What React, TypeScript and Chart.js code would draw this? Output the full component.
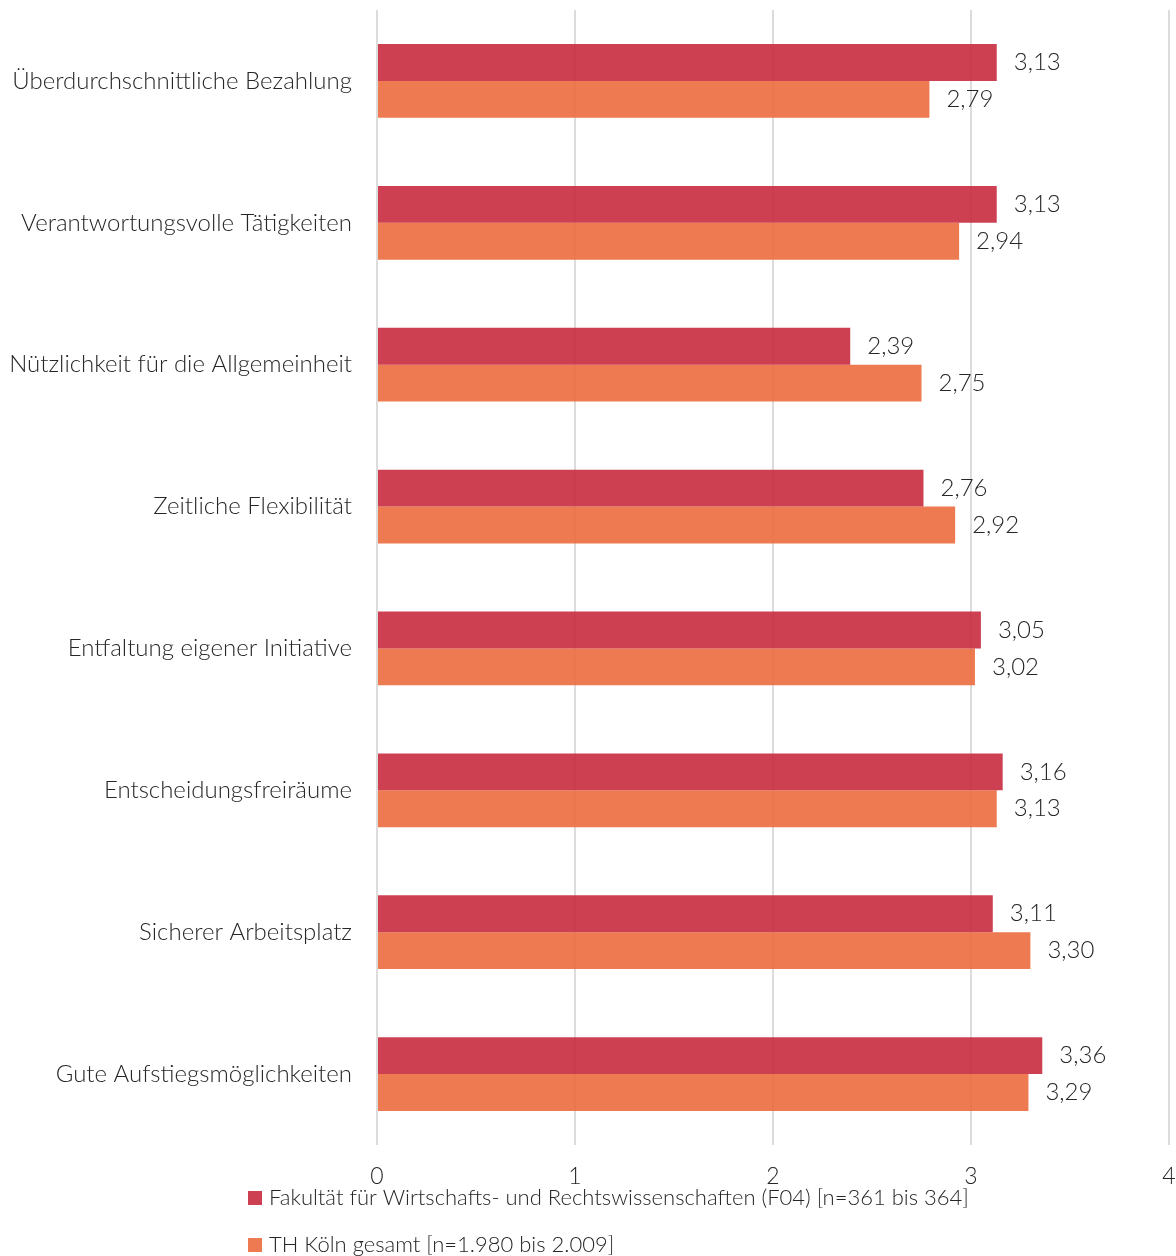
import React, { useEffect, useRef } from "react";
import { Chart, registerables } from "chart.js";

Chart.register(...registerables);

const categories = [
  "Überdurchschnittliche Bezahlung",
  "Verantwortungsvolle Tätigkeiten",
  "Nützlichkeit für die Allgemeinheit",
  "Zeitliche Flexibilität",
  "Entfaltung eigener Initiative",
  "Entscheidungsfreiräume",
  "Sicherer Arbeitsplatz",
  "Gute Aufstiegsmöglichkeiten",
];
const seriesNames = [
  "Fakultät für Wirtschafts- und Rechtswissenschaften (F04) [n=361 bis 364]",
  "TH Köln gesamt [n=1.980 bis 2.009]",
];
const facultyValues = [3.13, 3.13, 2.39, 2.76, 3.05, 3.16, 3.11, 3.36];
const totalValues = [2.79, 2.94, 2.75, 2.92, 3.02, 3.13, 3.3, 3.29];
const xTicks = [0, 1, 2, 3, 4];

const COLORS = ["rgba(199,43,63,0.9)", "rgba(235,108,61,0.9)"];
const FONT_FAMILY = "Lato, 'Open Sans', sans-serif";
const TEXT = "#262626";

const fmt = (v: number) => v.toFixed(2).replace(".", ",");

const zeroPad = (scale: any) => {
  scale.paddingTop = 0;
  scale.paddingBottom = 0;
  scale.paddingLeft = 0;
  scale.paddingRight = 0;
};

const valueLabels = {
  id: "valueLabels",
  afterDatasetsDraw(chart: any) {
    const ctx = chart.ctx;
    ctx.save();
    ctx.font = `300 24px ${FONT_FAMILY}`;
    ctx.fillStyle = TEXT;
    ctx.textAlign = "left";
    ctx.textBaseline = "middle";
    chart.data.datasets.forEach((ds: any, i: number) => {
      const meta = chart.getDatasetMeta(i);
      meta.data.forEach((bar: any, j: number) => {
        ctx.fillText(fmt(ds.data[j]), bar.x + 17, bar.y);
      });
    });
    ctx.restore();
  },
};

const manualLegend = {
  id: "manualLegend",
  afterDraw(chart: any) {
    const ctx = chart.ctx;
    const bottom = chart.chartArea.bottom;
    ctx.save();
    ctx.font = `300 22px ${FONT_FAMILY}`;
    ctx.textAlign = "left";
    ctx.textBaseline = "middle";
    chart.data.datasets.forEach((ds: any, i: number) => {
      const cy = bottom + 53 + i * 47;
      ctx.fillStyle = COLORS[i];
      ctx.fillRect(248, cy - 7, 14, 14);
      ctx.fillStyle = TEXT;
      ctx.fillText(ds.label, 269, cy);
    });
    ctx.restore();
  },
};

export default function App() {
  const ref = useRef<HTMLCanvasElement | null>(null);
  useEffect(() => {
    if (!ref.current) return;
    const chart = new Chart(ref.current, {
      type: "bar",
      data: {
        labels: categories,
        datasets: [
          {
            label: seriesNames[0],
            data: facultyValues,
            backgroundColor: COLORS[0],
            barPercentage: 1,
            categoryPercentage: 0.52,
          },
          {
            label: seriesNames[1],
            data: totalValues,
            backgroundColor: COLORS[1],
            barPercentage: 1,
            categoryPercentage: 0.52,
          },
        ],
      },
      options: {
        indexAxis: "y",
        responsive: false,
        animation: false,
        layout: { padding: { top: 10, right: 7, left: 0, bottom: 0 } },
        plugins: {
          legend: { display: false },
          tooltip: { enabled: false },
        },
        scales: {
          x: {
            min: 0,
            max: 4,
            afterBuildTicks: (scale: any) => {
              scale.ticks = xTicks.map((v) => ({ value: v }));
            },
            afterFit: (scale: any) => {
              scale.height = 111;
              zeroPad(scale);
            },
            grid: { color: "#dcdcdc", lineWidth: 2, drawTicks: false },
            border: { display: false },
            ticks: {
              padding: 18,
              color: TEXT,
              font: { family: FONT_FAMILY, size: 23, weight: "300" },
              maxRotation: 0,
            },
          },
          y: {
            afterFit: (scale: any) => {
              scale.width = 377;
              zeroPad(scale);
            },
            grid: { display: false, drawTicks: false },
            border: { display: false },
            ticks: {
              padding: 25,
              color: TEXT,
              font: { family: FONT_FAMILY, size: 24, weight: "300" },
            },
          },
        },
      },
      plugins: [valueLabels, manualLegend],
    });
    return () => chart.destroy();
  }, []);
  return (
    <div style={{ position: "fixed", left: 0, top: 0, width: 1176, height: 1256, background: "#fff" }}>
      <canvas ref={ref} width={1176} height={1256} />
    </div>
  );
}
